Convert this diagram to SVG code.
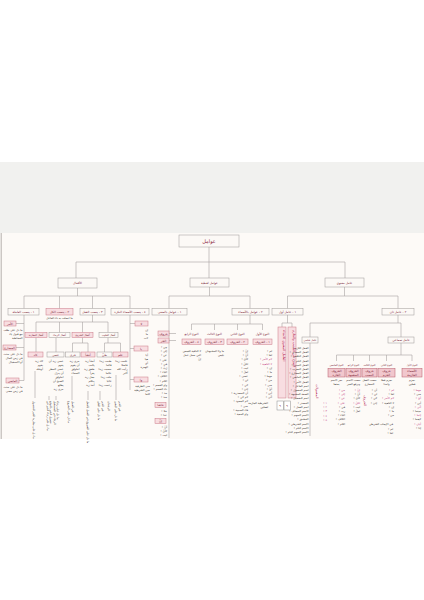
<svg xmlns="http://www.w3.org/2000/svg" width="424" height="600" viewBox="0 0 424 600">
<style>
.bx{fill:#fcf9f6;stroke:#9d9896;stroke-width:.5}
.pk{fill:#f8dde1;stroke:#c97785;stroke-width:.5}
.rd{fill:#f1c7cd;stroke:#b85a6a;stroke-width:.5}
.wb{fill:#ffffff;stroke:#8a8a8a;stroke-width:.5}
.ln{fill:none;stroke:#a8a3a1;stroke-width:.6}
text{font-family:"DejaVu Sans",sans-serif}
.t{font-size:3.1px;fill:#7c1f38;text-anchor:middle}
.ts{font-size:2.5px;fill:#7c1f38;text-anchor:middle}
.h{font-size:5px;fill:#8a1e3c;text-anchor:middle}
.l{font-size:2.8px;fill:#3b3232;text-anchor:end}
.c{font-size:2.8px;fill:#3b3232;text-anchor:middle}
.m{font-size:2.8px;fill:#c2337c;text-anchor:end}
.v{font-size:2.8px;fill:#3b3232}
.vp{font-size:3.4px;fill:#b3204e}
</style>
<rect x="0" y="0" width="424" height="600" fill="#ffffff"/>
<rect x="0" y="162" width="424" height="71" fill="#f1f1ef"/>
<rect x="0" y="233" width="424" height="206" fill="#fdfaf7"/>
<path d="M1.2 233V439" stroke="#b5b0ad" stroke-width="1"/>

<g id="connectors" class="ln">
<path d="M209 247V262M76 262H345M76 262V278M209 262V278M345 262V278"/>
<path d="M77.5 288V296M24 296H130M24 296V308.5M59.5 296V308.5M92.5 296V308.5M130 296V308.5"/>
<path d="M209.5 287V296M169 296H250M169 296V308.5M250 296V308.5"/>
<path d="M344.5 287V296M287.5 296H398M287.5 296V308.5M398 296V308.5"/>
<path d="M24 315V380.5M16 323.5H24M16 347.5H24M19 380.5H24"/>
<path d="M92.5 315V322M36 322H108M36 322V332.5M59.5 322V332.5M82.5 322V332.5M108 322V332.5"/>
<path d="M36 337.5V352M56 337.5V352M82.5 337.5V343M72.5 343H88M72.5 343V352M88 343V352M108 337.5V343M104.5 343H120.5M104.5 343V352M120.5 343V352"/>
<path d="M35 371V398M49 396V400M56 396V400M72 376V400M88 391V400M100 391V400M116 375V400"/>
<path d="M130 315V390M130 323.5H135M130 348.5H134M130 379.5H134"/>
<path d="M169 315V438M169 333.5H176M169 340.5H176"/>
<path d="M250 315V324M191.5 324H262.5M191.5 324V330M214.5 324V330M237.5 324V330M262.5 324V330"/>
<path d="M287.5 315V323M282 323H292M282 323V327M292 323V327"/>
<path d="M398 315V323M310 323H401M310 323V337M401 323V337"/>
<path d="M310 343V436"/>
<path d="M401 343V355M336.5 355H412M336.5 355V361M353.5 355V361M369.5 355V361M386.5 355V361M412 355V361"/>
</g>

<g id="n-root"><rect class="bx" x="179" y="235" width="60" height="12"/><text class="h" x="209" y="242.8">عوامل</text></g>

<g id="n-l1"><rect class="bx" x="58" y="278" width="39" height="10"/><text class="t" x="77.5" y="284.2">الأفعال</text></g>
<g id="n-m1"><rect class="bx" x="190" y="278" width="39" height="9"/><text class="t" x="209.5" y="283.7">عوامل لفظية</text></g>
<g id="n-r1"><rect class="bx" x="325" y="278" width="39" height="9"/><text class="t" x="344.5" y="283.7">عامل معنوي</text></g>

<g id="n-L1"><rect class="bx" x="8" y="308.5" width="31" height="6.5"/><text class="t" x="23.5" y="312.8">١ - ينصب العاملة</text></g>
<g id="n-L2"><rect class="pk" x="46" y="308.5" width="27" height="6.5"/><text class="t" x="59.5" y="312.8">٢ - ينصب الكل</text></g>
<g id="n-L3"><rect class="bx" x="80" y="308.5" width="25" height="6.5"/><text class="t" x="92.5" y="312.8">٣ - ينصب الفعل</text></g>
<g id="n-L4"><rect class="bx" x="111" y="308.5" width="38" height="6.5"/><text class="t" x="130" y="312.8">٤ - ينصب الأسماء النكرة</text></g>
<g id="n-M1"><rect class="bx" x="152" y="308.5" width="35" height="6.5"/><text class="t" x="169.5" y="312.8">١ - عوامل بالمعنى</text></g>
<g id="n-M2"><rect class="bx" x="232" y="308.5" width="37" height="6.5"/><text class="t" x="250.5" y="312.8">٢ - عوامل بالأسماء</text></g>
<g id="n-R1"><rect class="bx" x="272" y="308.5" width="31" height="6.5"/><text class="t" x="287.5" y="312.8">١ - عامل أول</text></g>
<g id="n-R2"><rect class="bx" x="382" y="308.5" width="32" height="6.5"/><text class="t" x="398" y="312.8">٢ - عامل ثان</text></g>

<g id="n-L1-list">
<rect class="pk" x="4" y="321" width="12" height="5"/><text class="t" x="10" y="324.7">الأمر</text>
<text class="l" x="22.5" y="330.5">ما دل على طلب</text><text class="l" x="22.5" y="334.5">مع قبول ياء</text><text class="l" x="22.5" y="338.5">المخاطبة</text>
<rect class="pk" x="3" y="345" width="13" height="5"/><text class="t" x="9.5" y="348.7">المضارع</text>
<text class="l" x="22.5" y="355">ما دل على حدث</text><text class="l" x="22.5" y="359">في زمن الحال</text><text class="l" x="22.5" y="363">أو الاستقبال</text>
<rect class="pk" x="6" y="378" width="13" height="5"/><text class="t" x="12.5" y="381.7">الماضي</text>
<text class="l" x="22.5" y="388">ما دل على حدث</text><text class="l" x="22.5" y="392">في زمن مضى</text>
</g>
<g id="n-L2-note"><text class="c" x="59.5" y="319.3">ما اتصلت به تاء الفاعل</text></g>

<g id="n-row1">
<rect class="pk" x="25" y="332.5" width="22" height="5"/><text class="ts" x="36" y="335.9">أفعال المقاربة</text>
<rect class="bx" x="49" y="332.5" width="21" height="5"/><text class="ts" x="59.5" y="335.9">أفعال الرجاء</text>
<rect class="pk" x="72" y="332.5" width="21" height="5"/><text class="ts" x="82.5" y="335.9">أفعال الشروع</text>
<rect class="bx" x="99" y="332.5" width="19" height="5"/><text class="ts" x="108.5" y="335.9">أفعال القلوب</text>
</g>
<g id="n-row2">
<rect class="pk" x="28" y="352" width="15" height="5"/><text class="t" x="35.5" y="355.5">كاد</text>
<rect class="bx" x="47" y="352" width="17" height="5"/><text class="t" x="55.5" y="355.5">عسى</text>
<rect class="bx" x="65.5" y="352" width="14.5" height="5"/><text class="t" x="72.8" y="355.5">حرى</text>
<rect class="pk" x="81" y="352" width="14" height="5"/><text class="t" x="88" y="355.5">أنشأ</text>
<rect class="bx" x="97" y="352" width="15" height="5"/><text class="t" x="104.5" y="355.5">ظنّ</text>
<rect class="pk" x="113" y="352" width="15" height="5"/><text class="t" x="120.5" y="355.5">علم</text>
</g>
<g id="n-row2-lists">
<text class="l" x="43" y="362">كاد زيد</text><text class="l" x="43" y="366">يقوم</text><text class="l" x="43" y="370">أوشك</text>
<text class="l" x="63.5" y="362">عسى زيد أن</text><text class="l" x="63.5" y="366">يقوم</text><text class="l" x="63.5" y="370">عسى المطر</text><text class="l" x="63.5" y="374">أن ينزل</text><text class="l" x="63.5" y="378">اخلولق</text><text class="l" x="63.5" y="382">الصبح أن</text><text class="l" x="63.5" y="386">يطلع</text><text class="l" x="63.5" y="390">حرى زيد</text>
<text class="l" x="79.5" y="362">حرى زيد</text><text class="l" x="79.5" y="366">أن يقوم</text><text class="l" x="79.5" y="370">اخلولق</text><text class="l" x="79.5" y="374">السماء</text>
<text class="l" x="94.5" y="362">أنشأ زيد</text><text class="l" x="94.5" y="366">يكتب</text><text class="l" x="94.5" y="370">طفق زيد</text><text class="l" x="94.5" y="374">يقرأ</text><text class="l" x="94.5" y="378">جعل زيد</text><text class="l" x="94.5" y="382">يتكلم</text><text class="l" x="94.5" y="386">أخذ زيد</text>
<text class="l" x="111.5" y="362">ظننت زيدا</text><text class="l" x="111.5" y="366">قائما</text><text class="l" x="111.5" y="370">حسبت زيدا</text><text class="l" x="111.5" y="374">عالما</text><text class="l" x="111.5" y="378">خلت زيدا</text><text class="l" x="111.5" y="382">غائبا</text><text class="l" x="111.5" y="386">زعمت زيدا</text>
<text class="l" x="127.5" y="362">علمت زيدا</text><text class="l" x="127.5" y="366">فاضلا</text><text class="l" x="127.5" y="370">رأيت الله</text><text class="l" x="127.5" y="374">أكبر</text>
</g>
<g id="n-rotated-left">
<text class="v" transform="translate(32.5 401) rotate(90)">ما دل على مقاربة الخبر للحصول</text>
<text class="v" transform="translate(46.5 401) rotate(90)">ما دل على رجاء الخبر في</text>
<text class="v" transform="translate(50 401) rotate(90)">حصول الخبر بالتوقع</text>
<text class="v" transform="translate(53.5 401) rotate(90)">الرجاء في المستقبل</text>
<text class="v" transform="translate(57 401) rotate(90)">ما دل على رجاء</text>
<text class="v" transform="translate(68 401) rotate(90)">ما دل على الشروع</text>
<text class="v" transform="translate(71.5 401) rotate(90)">في العمل</text>
<text class="v" transform="translate(87 401) rotate(90)">ما دل على الشروع في العمل بالفعل</text>
<text class="v" transform="translate(98 401) rotate(90)">ما دل على الظن</text>
<text class="v" transform="translate(101.5 401) rotate(90)">في الخبر</text>
<text class="v" transform="translate(108 401) rotate(90)">الرجحان</text>
<text class="v" transform="translate(115 401) rotate(90)">ما دل على اليقين</text>
<text class="v" transform="translate(118.5 401) rotate(90)">في الخبر</text>
</g>

<g id="n-L4-list">
<rect class="pk" x="135" y="321" width="13" height="5"/><text class="t" x="141.5" y="324.7">لا</text>
<text class="l" x="148" y="331">إن</text><text class="l" x="148" y="335">ما</text><text class="l" x="148" y="339">لات</text>
<rect class="pk" x="134" y="346" width="14" height="5"/><text class="t" x="141" y="349.7">يا</text>
<text class="l" x="148" y="356">أيا</text><text class="l" x="148" y="360">هيا</text><text class="l" x="148" y="364">أي</text><text class="l" x="148" y="368">الهمزة</text>
<rect class="pk" x="134" y="377" width="14" height="5"/><text class="t" x="141" y="380.7">وا</text>
<text class="l" x="150" y="387">متى الظرفية</text><text class="l" x="150" y="391">حين الشرطية</text><text class="l" x="150" y="395">كلما</text>
</g>

<g id="n-M1-list">
<rect class="pk" x="158" y="331" width="11" height="5"/><text class="t" x="163.5" y="334.7">حروف</text>
<rect class="pk" x="158" y="338" width="11" height="5"/><text class="t" x="163.5" y="341.7">الجر</text>
<text class="l" x="167" y="348">• مِن</text><text class="l" x="167" y="352.2">• إلى</text><text class="l" x="167" y="356.4">• عن</text><text class="l" x="167" y="360.6">• على</text><text class="l" x="167" y="364.8">• في</text><text class="l" x="167" y="369">• رُبّ</text><text class="l" x="167" y="373.2">• الباء</text><text class="l" x="167" y="377.4">• الكاف</text><text class="l" x="167" y="381.6">• اللام</text><text class="l" x="167" y="385.8">• واو القسم</text><text class="l" x="167" y="390">• تاء القسم</text><text class="l" x="167" y="394.2">• مذ</text><text class="l" x="167" y="398.4">• منذ</text>
<rect class="pk" x="155" y="402.5" width="11" height="5"/><text class="t" x="160.5" y="406.2">حاشا</text>
<text class="l" x="167" y="412">• خلا</text><text class="l" x="167" y="416">• عدا</text>
<rect class="pk" x="155" y="418.5" width="11" height="5"/><text class="t" x="160.5" y="422.2">إنّ</text>
<text class="l" x="167" y="428">• أنّ</text><text class="l" x="167" y="432">• كأنّ</text><text class="l" x="167" y="436">• ليت</text>
</g>

<g id="n-M2-children">
<text class="t" x="191.5" y="335">النوع الرابع</text><rect class="pk" x="182" y="339" width="19" height="5.5"/><text class="t" x="191.5" y="342.8">٤ - الحروف</text>
<text class="t" x="214.5" y="335">النوع الثالث</text><rect class="pk" x="205" y="339" width="19" height="5.5"/><text class="t" x="214.5" y="342.8">٣ - الحروف</text>
<text class="t" x="237.5" y="335">النوع الثاني</text><rect class="pk" x="227" y="339" width="21" height="5.5"/><text class="t" x="237.5" y="342.8">٢ - الحروف</text>
<text class="t" x="262.5" y="335">النوع الأول</text><rect class="pk" x="253" y="339" width="19" height="5.5"/><text class="t" x="262.5" y="342.8">١ - الحروف</text>
</g>
<g id="n-M2-lists">
<text class="l" x="201" y="352">لا النافية للجنس</text><text class="l" x="201" y="356">التي تعمل عمل</text><text class="l" x="201" y="360">إنّ</text>
<text class="l" x="224" y="352">ما ولا المشبهتان</text><text class="l" x="224" y="356">بليس</text>
<text class="l" x="248" y="352">• إنّ</text><text class="l" x="248" y="356.2">• أنّ</text><text class="l" x="248" y="360.4">• كأنّ</text><text class="l" x="248" y="364.6">• لكنّ</text><text class="l" x="248" y="368.8">• ليت</text><text class="l" x="248" y="373">• لعلّ</text><text class="l" x="248" y="377.2">• عسى</text><text class="l" x="248" y="381.4">• لن</text><text class="l" x="248" y="385.6">• كي</text><text class="l" x="248" y="389.8">• إذن</text><text class="l" x="248" y="394">• أن المصدرية</text><text class="l" x="248" y="398.2">• لام كي</text><text class="l" x="248" y="402.4">• لام الجحود</text><text class="l" x="248" y="406.6">• حتى</text><text class="l" x="248" y="410.8">• فاء السببية</text><text class="l" x="248" y="415">• واو المعية</text>
<text class="l" x="272" y="352">• لم</text><text class="l" x="272" y="356.2">• لمّا</text><text class="m" x="272" y="360.4">• لام الأمر</text><text class="m" x="272" y="364.6">• لا الناهية</text><text class="l" x="272" y="368.8">• إن</text><text class="l" x="272" y="373">• ما</text><text class="l" x="272" y="377.2">• مهما</text><text class="l" x="272" y="381.4">• من</text><text class="l" x="272" y="385.6">• متى</text><text class="l" x="272" y="389.8">• أيّ</text><text class="l" x="272" y="394">• أين</text><text class="l" x="272" y="398.2">• أنّى</text>
<text class="l" x="268" y="404">الشرطية الجازمة</text><text class="l" x="268" y="408">لفعلين</text>
</g>

<g id="n-R1-tall">
<rect class="pk" x="278" y="327" width="8" height="71"/><text class="vp" transform="translate(283.2 330) rotate(90)">العامل المعنوي الابتداء</text>
<rect class="pk" x="288" y="327" width="8" height="71"/><text class="vp" transform="translate(293.2 330) rotate(90)">التجرد عن الناصب والجازم</text>
<rect class="wb" x="277" y="401" width="6.5" height="9"/><text class="t" x="280.2" y="407">٩</text>
<rect class="wb" x="284" y="401" width="6.5" height="9"/><text class="t" x="287.2" y="407">٩</text>
</g>

<g id="n-S1"><rect class="bx" x="302" y="337" width="16" height="6"/><text class="ts" x="310" y="340.9">عامل قياسي</text></g>
<g id="n-S1-list">
<text class="l" x="308.5" y="349">• الفعل اللازم</text><text class="l" x="308.5" y="353.2">• الفعل المتعدي</text><text class="l" x="308.5" y="357.4">• الفعل الناقص</text><text class="l" x="308.5" y="361.6">• الفعل التام</text><text class="l" x="308.5" y="365.8">• الفعل المبني</text><text class="l" x="308.5" y="370">• الفعل المعرب</text><text class="l" x="308.5" y="374.2">• الفعل المضارع</text><text class="l" x="308.5" y="378.4">• الفعل الماضي</text><text class="l" x="308.5" y="382.6">• الفعل الأمر</text><text class="l" x="308.5" y="386.8">• اسم الفاعل</text><text class="l" x="308.5" y="391">• اسم المفعول</text><text class="l" x="308.5" y="395.2">• الصفة المشبهة</text><text class="l" x="308.5" y="399.4">• اسم التفضيل</text><text class="l" x="308.5" y="403.6">• المصدر</text><text class="l" x="308.5" y="407.8">• اسم الفعل</text><text class="l" x="308.5" y="412">• الاسم المضاف</text><text class="l" x="308.5" y="416.2">• الاسم المبهم</text><text class="l" x="308.5" y="420.4">• المشتق</text><text class="l" x="308.5" y="424.6">• الاسم الشرطي</text><text class="l" x="308.5" y="428.8">• الاسم التام</text><text class="l" x="308.5" y="433">• الاسم المبهم التام</text>
<text class="vp" transform="translate(316 384) rotate(90)">المعمولات</text>
<text class="m" x="327" y="404">• ١</text><text class="m" x="327" y="408.2">• ٢</text><text class="m" x="327" y="412.4">• ٣</text><text class="m" x="327" y="416.6">• ٤</text><text class="m" x="327" y="420.8">• ٥</text>
</g>

<g id="n-S2"><rect class="bx" x="388" y="337" width="26" height="6"/><text class="t" x="401" y="341">عامل سماعي</text></g>
<g id="n-S2-children">
<text class="ts" x="336.5" y="365.5">النوع الخامس</text><rect class="rd" x="328" y="368.5" width="17" height="8.5"/><text class="t" x="336.5" y="372">الحروف</text><text class="t" x="336.5" y="375.6">الجارة</text>
<text class="ts" x="353.5" y="365.5">النوع الرابع</text><rect class="rd" x="346" y="368.5" width="15" height="8.5"/><text class="t" x="353.5" y="372">الحروف</text><text class="t" x="353.5" y="375.6">المشبهة</text>
<text class="ts" x="369.5" y="365.5">النوع الثالث</text><rect class="rd" x="362" y="368.5" width="15" height="8.5"/><text class="t" x="369.5" y="372">حروف</text><text class="t" x="369.5" y="375.6">النصب</text>
<text class="ts" x="386.5" y="365.5">النوع الثاني</text><rect class="rd" x="378" y="368.5" width="17" height="8.5"/><text class="t" x="386.5" y="372">حروف</text><text class="t" x="386.5" y="375.6">الجزم</text>
<text class="ts" x="412" y="365.5">النوع الأول</text><rect class="rd" x="402" y="368.5" width="20" height="8.5"/><text class="t" x="412" y="372">الأسماء</text><text class="t" x="412" y="375.6">الجازمة</text>
</g>
<g id="n-S2-lists">
<text class="c" x="336.5" y="381">تجر الاسم</text><text class="c" x="336.5" y="385">بعدها</text>
<text class="c" x="353.5" y="381">تنصب الاسم</text><text class="c" x="353.5" y="385">وترفع الخبر</text>
<text class="c" x="369.5" y="381">تنصب الفعل</text><text class="c" x="369.5" y="385">المضارع</text>
<text class="c" x="386.5" y="381">تجزم فعلا</text><text class="c" x="386.5" y="385">واحدا</text>
<text class="c" x="412" y="381">تجزم</text><text class="c" x="412" y="385">فعلين</text>
<text class="m" x="345" y="391">• من</text><text class="m" x="345" y="395.2">• إلى</text><text class="m" x="345" y="399.4">• عن</text><text class="m" x="345" y="403.6">• على</text><text class="l" x="345" y="407.8">• في</text><text class="l" x="345" y="412">• رب</text><text class="l" x="345" y="416.2">• الباء</text><text class="l" x="345" y="420.4">• الكاف</text><text class="l" x="345" y="424.6">• اللام</text>
<text class="m" x="360" y="391">• إنّ</text><text class="l" x="360" y="395.2">• أنّ</text><text class="l" x="360" y="399.4">• كأنّ</text><text class="m" x="360" y="403.6">• لكنّ</text><text class="l" x="360" y="407.8">• ليت</text><text class="l" x="360" y="412">• لعلّ</text>
<text class="vp" transform="translate(364 395) rotate(90)">الحروف</text>
<text class="l" x="377" y="391">• أن</text><text class="l" x="377" y="395.2">• لن</text><text class="l" x="377" y="399.4">• كي</text><text class="l" x="377" y="403.6">• إذن</text>
<text class="l" x="393" y="425">في الإيجاب الشرطي</text><text class="l" x="393" y="430">• لم</text><text class="l" x="393" y="434.2">• لمّا</text>
<text class="m" x="394" y="391">• لم</text><text class="l" x="394" y="395.2">• لمّا</text><text class="m" x="394" y="399.4">• لام الأمر</text><text class="l" x="394" y="403.6">• لا الناهية</text><text class="l" x="394" y="407.8">• إن</text><text class="l" x="394" y="412">• ما</text><text class="l" x="394" y="416.2">• من</text>
<text class="m" x="421" y="391">• مهما</text><text class="l" x="421" y="395.2">• متى</text><text class="m" x="421" y="399.4">• أيّ</text><text class="l" x="421" y="403.6">• أين</text><text class="m" x="421" y="407.8">• أنّى</text><text class="l" x="421" y="412">• حيثما</text><text class="m" x="421" y="416.2">• إذما</text><text class="l" x="421" y="420.4">• كيفما</text><text class="m" x="421" y="424.6">• أيان</text><text class="l" x="421" y="428.8">• إذا</text>
</g>
</svg>
